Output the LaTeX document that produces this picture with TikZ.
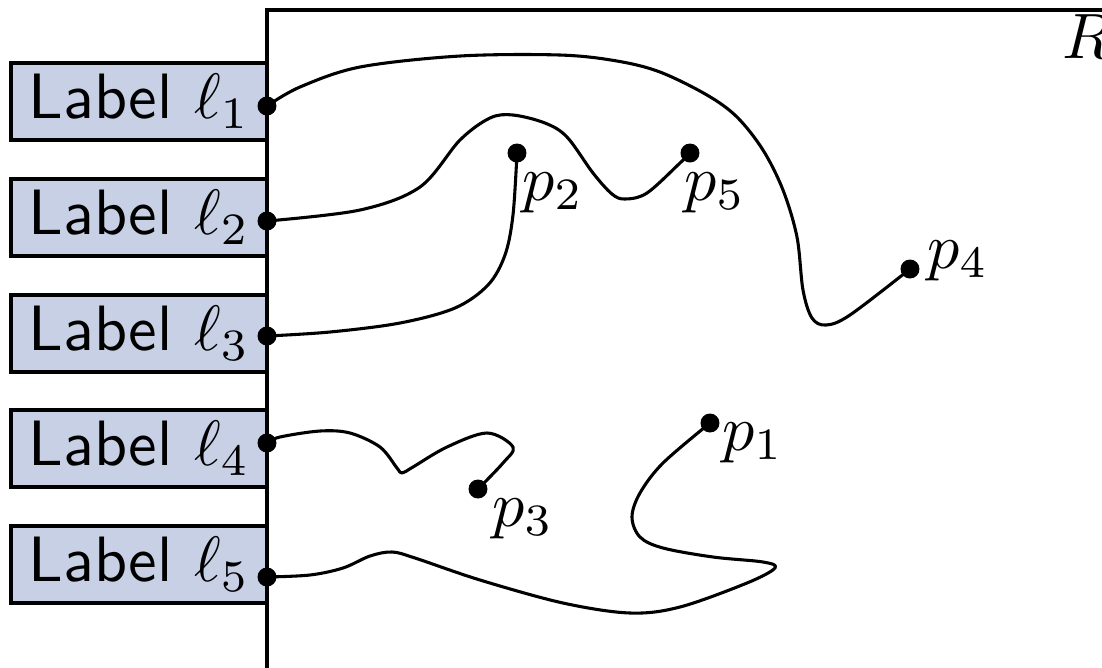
\documentclass[tikz,border=0pt]{standalone}
\definecolor{boxfill}{RGB}{199,208,228}
\tikzset{
  wire/.style={line width=0.48pt, line join=round},
  labelbox/.style={draw, line width=0.62pt, fill=boxfill, inner sep=0pt,
    minimum width=40pt, minimum height=12pt, font=\sffamily},
  dot/.style={circle, fill=black, inner sep=0pt, minimum size=2.96pt},
  ptlabel/.style={anchor=base west, inner sep=0pt},
}
\begin{document}
\begin{tikzpicture}[x=0.156pt, y=-0.156pt]
\useasboundingbox (0,0) rectangle (1102,667);
\clip (0,0) rectangle (1102,667);

% region R
\draw[line width=0.62pt] (1200,10) -- (267,10) -- (267,720);
\node[ptlabel] (R) at (1061,58) {$R$};

% label boxes on the left
\node[labelbox] (b1) at (139,101.5) {Label $\ell_1$};
\node[labelbox] (b2) at (139,217.5) {Label $\ell_2$};
\node[labelbox] (b3) at (139,333.5) {Label $\ell_3$};
\node[labelbox] (b4) at (139,448.5) {Label $\ell_4$};
\node[labelbox] (b5) at (139,564.5) {Label $\ell_5$};
\draw[line width=0.62pt] (267,50) -- (267,640);

% terminals on the boundary
\node[dot] (l1) at (267,106) {};
\node[dot] (l2) at (267,221) {};
\node[dot] (l3) at (267,336) {};
\node[dot] (l4) at (267,443) {};
\node[dot] (l5) at (267,577) {};

% interior points
\node[dot] (p1) at (710,423) {};
\node[dot] (p2) at (517,153) {};
\node[dot] (p3) at (478,489) {};
\node[dot] (p4) at (910,269) {};
\node[dot] (p5) at (690,153) {};

\node[ptlabel] (t1) at (721,450) {$p_1$};
\node[ptlabel] (t2) at (521,200) {$p_2$};
\node[ptlabel] (t3) at (491,526) {$p_3$};
\node[ptlabel] (t4) at (926,268) {$p_4$};
\node[ptlabel] (t5) at (683,200) {$p_5$};

% routed curves
\draw[wire] plot[smooth, tension=0.55] coordinates {(l1.center) (300,87) (360,67) (460,56) (560,55) (617,61) (660,72) (707,95) (737,117) (763,150) (783,190) (797,237) (803,290) (812,318) (826,325) (850,315) (p4.center)};
\draw[wire] plot[smooth, tension=0.55] coordinates {(l2.center) (360,210) (420,187) (460,140) (490,118) (513,115) (545,123) (567,137) (593,173) (612,194) (625,199) (647,193) (680,163) (p5.center)};
\draw[wire] plot[smooth, tension=0.55] coordinates {(l3.center) (330,332) (400,323) (455,308) (488,285) (505,255) (513,215) (p2.center)};
\draw[wire] plot[smooth, tension=0.55] coordinates {(l4.center) (280,437) (320,431) (350,433) (380,447) (397,468) (402,473) (413,467) (447,447) (487,433) (513,447) (503,463) (p3.center)};
\draw[wire] plot[smooth, tension=0.55] coordinates {(l5.center) (310,575) (343,568) (370,556) (392,552) (415,558) (480,580) (563,603) (630,613) (680,607) (747,583) (775,568) (763,562) (713,557) (663,548) (640,537) (632,517) (640,493) (663,463) (p1.center)};
\end{tikzpicture}
\end{document}
